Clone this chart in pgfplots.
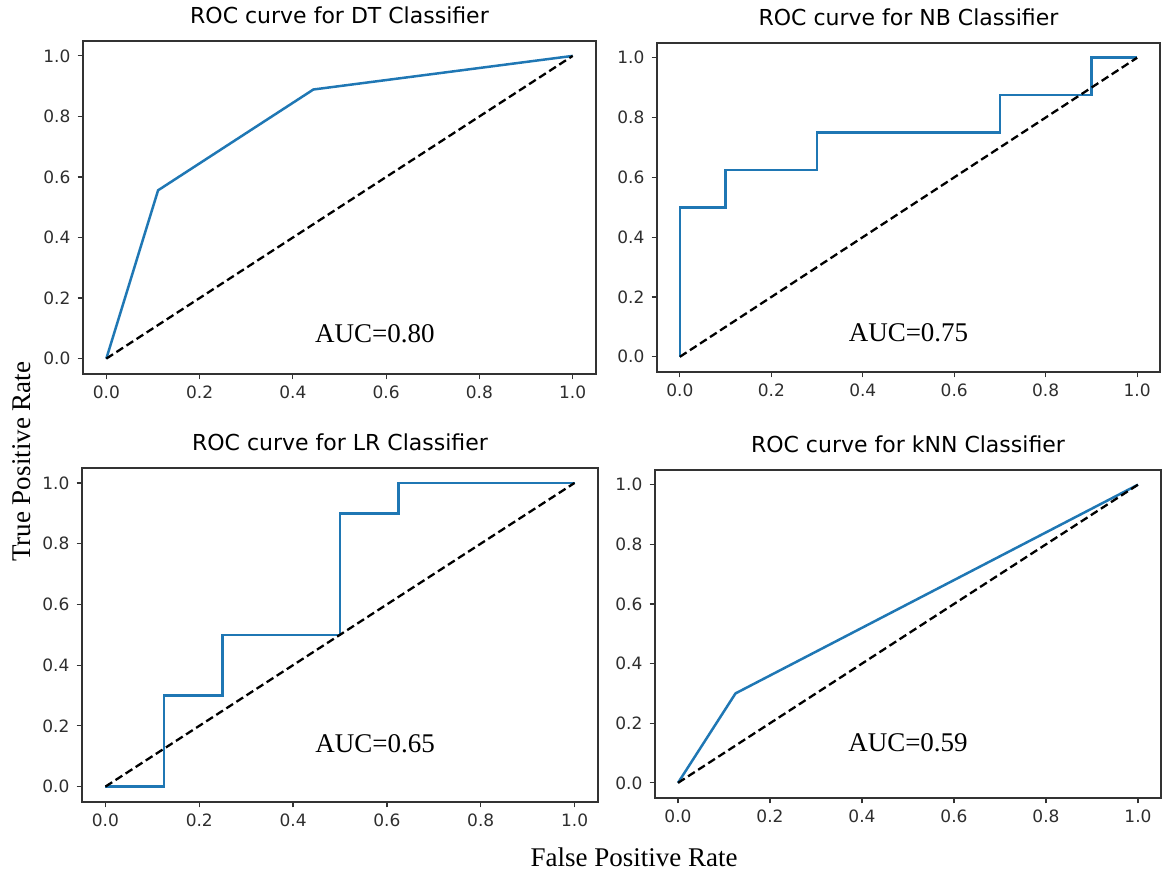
\documentclass[border=0pt]{standalone}
\usepackage{fontspec}
\setmainfont{Liberation Serif}
\newfontfamily\dvs{DejaVu Sans}
\usepackage{pgfplots}
\pgfplotsset{compat=1.18}
\definecolor{mplblue}{HTML}{1F77B4}

\pgfplotsset{
  roc/.style={
    scale only axis,
    anchor=south west,
    xmin=-0.05, xmax=1.05, ymin=-0.05, ymax=1.05,
    xtick={0,0.2,0.4,0.6,0.8,1},
    ytick={0,0.2,0.4,0.6,0.8,1},
    xticklabels={0.0,0.2,0.4,0.6,0.8,1.0},
    yticklabels={0.0,0.2,0.4,0.6,0.8,1.0},
    ticklabel style={font=\dvs\fontsize{8.5}{10}\selectfont, text=black!82},
    tick align=outside,
    tick pos=left,
    major tick length=2.75pt,
    tick style={black!80, line width=0.6pt},
    axis line style={black!80, line width=0.75pt},
    title style={font=\dvs\fontsize{11}{13}\selectfont, at={(0.5,1)}, anchor=south, yshift=-1pt},
    clip=false,
  },
  curve/.style={mplblue, line width=1.25pt},
  chance/.style={black, line width=1.15pt, dash pattern=on 4pt off 2pt},
}

\begin{document}
\begin{tikzpicture}
\path (0,0) rectangle (583pt,-433pt);

% DT
\begin{axis}[roc, at={(41.5pt,-184.5pt)}, width=256.5pt, height=166.5pt,
    title={ROC curve for DT Classifier}]
  \addplot[curve] coordinates {(0,0) (0.111,0.556) (0.444,0.889) (1,1)};
  \addplot[chance] coordinates {(0,0) (1,1)};
  \node[font=\fontsize{13.5}{16}\selectfont] at (axis cs:0.576,0.083) {AUC=0.80};
\end{axis}

% NB
\begin{axis}[roc, at={(328.5pt,-183.5pt)}, width=251.5pt, height=164.5pt,
    title={ROC curve for NB Classifier}]
  \addplot[curve] coordinates {(0,0) (0,0.5) (0.1,0.5) (0.1,0.625) (0.3,0.625)
    (0.3,0.75) (0.7,0.75) (0.7,0.875) (0.9,0.875) (0.9,1) (1,1)};
  \addplot[chance] coordinates {(0,0) (1,1)};
  \node[font=\fontsize{13.5}{16}\selectfont] at (axis cs:0.50,0.08) {AUC=0.75};
\end{axis}

% LR
\begin{axis}[roc, at={(41pt,-398.5pt)}, width=258pt, height=167pt,
    title={ROC curve for LR Classifier}]
  \addplot[curve] coordinates {(0,0) (0.125,0) (0.125,0.3) (0.25,0.3) (0.25,0.5)
    (0.5,0.5) (0.5,0.9) (0.625,0.9) (0.625,1) (1,1)};
  \addplot[chance] coordinates {(0,0) (1,1)};
  \node[font=\fontsize{13.5}{16}\selectfont] at (axis cs:0.575,0.14) {AUC=0.65};
\end{axis}

% kNN
\begin{axis}[roc, at={(327.5pt,-396.5pt)}, width=253pt, height=164pt,
    title={ROC curve for kNN Classifier}]
  \addplot[curve] coordinates {(0,0) (0.125,0.3) (1,1)};
  \addplot[chance] coordinates {(0,0) (1,1)};
  \node[font=\fontsize{13.5}{16}\selectfont] at (axis cs:0.50,0.134) {AUC=0.59};
\end{axis}

\node[rotate=90, inner sep=0pt, font=\fontsize{13.5}{16}\selectfont] at (11pt,-228.5pt) {True Positive Rate};
\node[inner sep=0pt, font=\fontsize{13.5}{16}\selectfont] at (317pt,-426pt) {False Positive Rate};
\end{tikzpicture}
\end{document}
